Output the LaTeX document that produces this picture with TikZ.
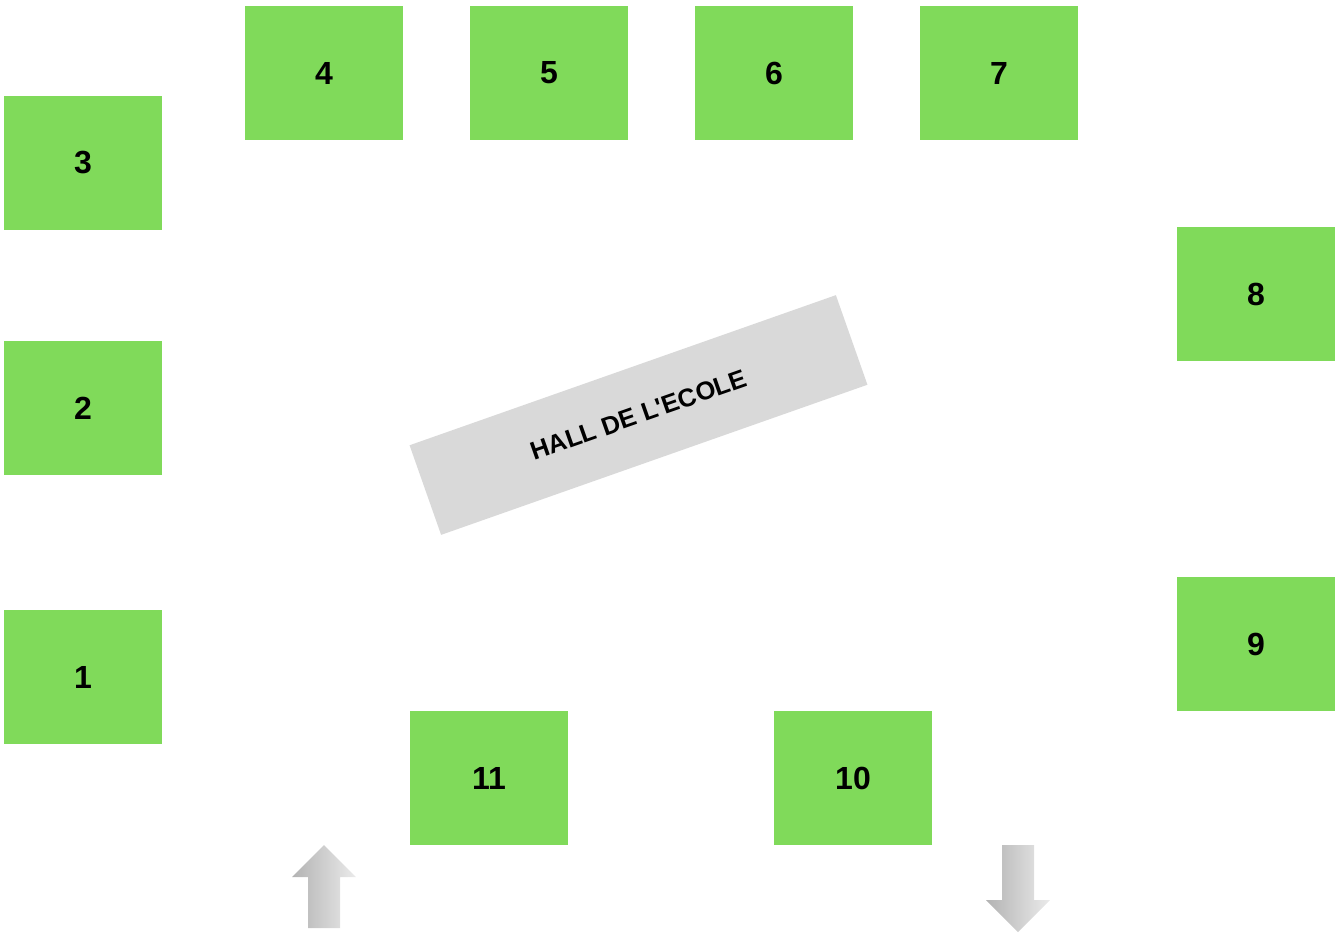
\documentclass[tikz,border=0pt]{standalone}
\usepackage{fontspec}
\setmainfont{Liberation Sans}
\definecolor{roomgreen}{RGB}{128,218,90}
\definecolor{hallgray}{RGB}{217,217,217}
\begin{document}
\begin{tikzpicture}[
    x=1pt, y=-1pt,
    room/.style={rectangle, fill=roomgreen, minimum width=158pt, minimum height=134pt, inner sep=0pt, font=\fontsize{32}{38}\selectfont\bfseries},
    hall/.style={rectangle, fill=hallgray, minimum width=452pt, minimum height=95pt, inner sep=0pt, rotate=19.4, font=\fontsize{25.5}{30}\selectfont\bfseries},
    exitarrow/.style={left color=black!30, right color=black!8}
]
\useasboundingbox (0,0) rectangle (1343,932);

% salles a gauche
\node[room] (r1) at (83,677) {1};
\node[room] (r2) at (83,408) {2};
\node[room] (r3) at (83,163) {3};

% salles en haut
\node[room] (r4) at (324,73) {4};
\node[room] (r5) at (549,73) {5};
\node[room] (r6) at (774,73) {6};
\node[room] (r7) at (999,73) {7};

% salles a droite
\node[room] (r8) at (1256,294) {8};
\node[room] (r9) at (1256,644) {9};

% salles en bas
\node[room] (r10) at (853,778) {10};
\node[room] (r11) at (489,778) {11};

% hall
\node[hall] (hall) at (638.5,415) {HALL DE L\textquotesingle ECOLE};

% entree et sortie
\shade[exitarrow] (308,928) -- (308,877) -- (292,877) -- (324,845) -- (356,877) -- (340,877) -- (340,928) -- cycle;
\shade[exitarrow] (1002,845) -- (1002,900) -- (986,900) -- (1018,932) -- (1050,900) -- (1034,900) -- (1034,845) -- cycle;

\end{tikzpicture}
\end{document}
